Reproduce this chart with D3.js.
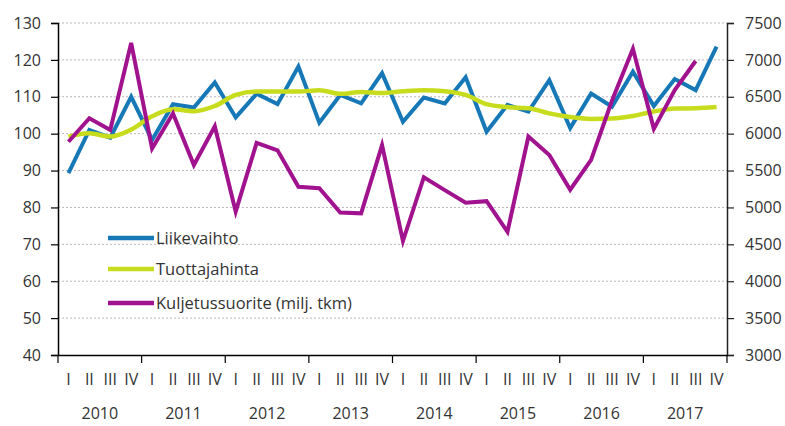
<!DOCTYPE html>
<html>
<head>
<meta charset="utf-8">
<script src="https://cdn.jsdelivr.net/npm/d3@7"></script>
<style>
  body { margin: 0; background: #fff; }
  text { font-family: "Open Sans", "DejaVu Sans", sans-serif; fill: #333; }
</style>
</head>
<body>
<div id="chart"></div>
<script>
// data, quarterly 2010 I .. 2017 IV
var years = ["2010", "2011", "2012", "2013", "2014", "2015", "2016", "2017"];
var quarters = ["I", "II", "III", "IV"];

var liikevaihto = [89.3, 101, 98.9, 110, 98.3, 108, 107.1, 113.9,
                   104.4, 110.8, 108, 118.2, 103, 110.5, 108.2, 116.4,
                   103.2, 109.8, 108.2, 115.3, 100.5, 107.8, 106, 114.5,
                   101.5, 110.9, 107.3, 116.8, 107.5, 114.8, 111.8, 123.6];

var tuottajahinta = [99.2, 100.1, 99.2, 101.1, 104.7, 106.6, 106.1, 107.5,
                     110.5, 111.4, 111.4, 111.4, 111.8, 110.8, 111.3, 111,
                     111.5, 111.8, 111.5, 110.5, 108, 107.2, 106.9, 105.5,
                     104.5, 104, 104.1, 104.8, 106, 106.8, 106.9, 107.2];

// milj. tkm, right axis (last quarter missing)
var kuljetussuorite = [5890, 6210, 6050, 7230, 5800, 6275, 5575, 6100,
                       4943, 5875, 5775, 5280, 5260, 4930, 4920, 5845,
                       4545, 5410, 5235, 5065, 5085, 4670, 5960, 5710,
                       5240, 5645, 6450, 7150, 6065, 6590, 6985, null];

var leftTicks = [40, 50, 60, 70, 80, 90, 100, 110, 120, 130];
var rightTicks = [3000, 3500, 4000, 4500, 5000, 5500, 6000, 6500, 7000, 7500];

var W = 785, H = 426;
var mLeft = 58, mRight = 727, mTop = 23, mBottom = 355;

var svg = d3.select("#chart").append("svg")
    .attr("width", W)
    .attr("height", H);

var n = liikevaihto.length;
var x = d3.scaleBand().domain(d3.range(n)).range([mLeft, mRight]);
var xYear = d3.scaleBand().domain(years).range([mLeft, mRight]);
var y = d3.scaleLinear().domain([40, 130]).range([mBottom, mTop]);
var y2 = d3.scaleLinear().domain([3000, 7500]).range([mBottom, mTop]);

function cx(i) { return x(i) + x.bandwidth() / 2; }

// gridlines
svg.append("g").selectAll("line")
  .data(leftTicks.slice(1))
  .enter().append("line")
    .attr("x1", mLeft).attr("x2", mRight)
    .attr("y1", function(d) { return y(d); })
    .attr("y2", function(d) { return y(d); })
    .attr("stroke", "#bcb4bc")
    .attr("stroke-width", 1)
    .attr("stroke-dasharray", "2,2");

// left axis
var axL = svg.append("g")
    .attr("transform", "translate(" + mLeft + ",0)")
    .call(d3.axisLeft(y).tickValues(leftTicks).tickSize(7).tickPadding(10));
axL.select(".domain").attr("stroke", "#000").attr("stroke-width", 1.5);
axL.selectAll(".tick line").attr("stroke", "#000").attr("stroke-width", 1.2);
axL.selectAll("text").style("font-size", "16px").attr("fill", "#333");

// right axis
var axR = svg.append("g")
    .attr("transform", "translate(" + mRight + ",0)")
    .call(d3.axisRight(y2).tickValues(rightTicks).tickFormat(d3.format("d"))
      .tickSize(7).tickPadding(11));
axR.select(".domain").attr("stroke", "#222").attr("stroke-width", 1.5);
axR.selectAll(".tick line").attr("stroke", "#222").attr("stroke-width", 1.2);
axR.selectAll("text").style("font-size", "16px").attr("fill", "#333");

// bottom axis, year boundaries
var axB = svg.append("g")
    .attr("transform", "translate(0," + mBottom + ")")
    .call(d3.axisBottom(xYear).tickValues([]).tickSizeOuter(0));
axB.select(".domain").attr("stroke", "#000").attr("stroke-width", 1.5);
svg.append("g").selectAll("line")
  .data(years.concat(["end"]))
  .enter().append("line")
    .attr("x1", function(d, i) { return mLeft + i * xYear.bandwidth(); })
    .attr("x2", function(d, i) { return mLeft + i * xYear.bandwidth(); })
    .attr("y1", mBottom).attr("y2", mBottom + 8)
    .attr("stroke", "#000").attr("stroke-width", 1.2);

// quarter labels
svg.append("g").selectAll("text")
  .data(d3.range(n))
  .enter().append("text")
    .attr("x", function(i) { return cx(i); })
    .attr("y", 385)
    .attr("text-anchor", "middle")
    .style("font-size", "16px")
    .attr("fill", "#555")
    .text(function(i) { return quarters[i % 4]; });

// year labels
svg.append("g").selectAll("text")
  .data(years)
  .enter().append("text")
    .attr("x", function(d) { return xYear(d) + xYear.bandwidth() / 2; })
    .attr("y", 419)
    .attr("text-anchor", "middle")
    .style("font-size", "16px")
    .attr("fill", "#333")
    .text(function(d) { return d; });

var colors = { blue: "#1678b6", green: "#c8dc1e", purple: "#a0128e" };

var lineL = d3.line()
    .x(function(d, i) { return cx(i); })
    .y(function(d) { return y(d); });

var lineSmooth = d3.line()
    .curve(d3.curveMonotoneX)
    .x(function(d, i) { return cx(i); })
    .y(function(d) { return y(d); });

var lineR = d3.line()
    .defined(function(d) { return d != null; })
    .x(function(d, i) { return cx(i); })
    .y(function(d) { return y2(d); });

svg.append("path")
    .attr("d", lineL(liikevaihto))
    .attr("fill", "none").attr("stroke", colors.blue)
    .attr("stroke-width", 4).attr("stroke-linejoin", "miter");

svg.append("path")
    .attr("d", lineSmooth(tuottajahinta))
    .attr("fill", "none").attr("stroke", colors.green)
    .attr("stroke-width", 4.5).attr("stroke-linejoin", "round");

svg.append("path")
    .attr("d", lineR(kuljetussuorite))
    .attr("fill", "none").attr("stroke", colors.purple)
    .attr("stroke-width", 4).attr("stroke-linejoin", "miter");

// legend
var legend = [
  { name: "Liikevaihto", color: colors.blue, y: 238 },
  { name: "Tuottajahinta", color: colors.green, y: 269 },
  { name: "Kuljetussuorite (milj. tkm)", color: colors.purple, y: 303 }
];
var lg = svg.append("g").selectAll("g")
  .data(legend)
  .enter().append("g")
    .attr("transform", function(d) { return "translate(0," + d.y + ")"; });
lg.append("line")
    .attr("x1", 108).attr("x2", 154)
    .attr("stroke", function(d) { return d.color; })
    .attr("stroke-width", 4.5);
lg.append("text")
    .attr("x", 156).attr("dy", "0.35em")
    .style("font-size", "16.5px")
    .attr("fill", "#333")
    .text(function(d) { return d.name; });
</script>
</body>
</html>
